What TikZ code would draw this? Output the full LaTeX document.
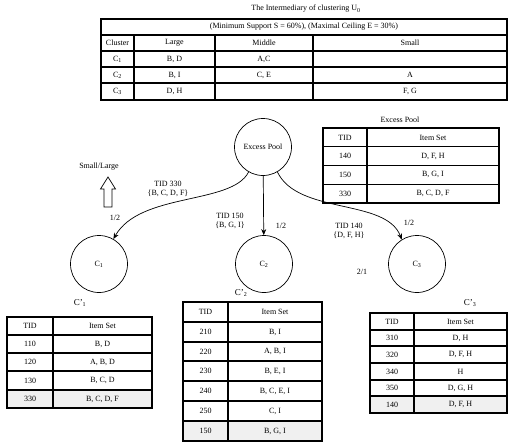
\documentclass[tikz,border=0pt]{standalone}
\usepackage{fontspec}
\setmainfont{Liberation Serif}
\usetikzlibrary{arrows.meta}
\begin{document}
\begin{tikzpicture}[x=1pt,y=-1pt,
  txt/.style={inner sep=0pt,font=\fontsize{8}{9.5}\selectfont},
  grid/.style={line width=1.1pt},
  clus/.style={draw,circle,minimum size=57pt,inner sep=0pt,line width=0.7pt,font=\fontsize{8}{9.5}\selectfont},
  flow/.style={line width=0.7pt,-{Stealth[length=6pt,width=5pt]}},
  newrow/.style={fill=gray!12}
]
\useasboundingbox (0,0) rectangle (509,442);

% ---------- top table ----------
\node[txt] (title) at (306,9) {The Intermediary of clustering U\textsubscript{0}};
\draw[grid] (101,19) rectangle (507,100);
\foreach \y in {35,51,67,83} \draw[grid] (101,\y) -- (507,\y);
\foreach \x in {134,215,313} \draw[grid] (\x,35) -- (\x,100);
\node[txt] (hdr) at (304,27) {(Minimum Support S = 60\%), (Maximal Ceiling E = 30\%)};
\node[txt] at (117.5,43) {Cluster};
\node[txt] at (174.5,43) {Large};
\node[txt] at (264,43) {Middle};
\node[txt] at (410,43) {Small};
\node[txt] at (117.5,59) {C\textsubscript{1}};
\node[txt] at (174.5,59) {B, D};
\node[txt] at (264,59) {A,C};
\node[txt] at (117.5,75) {C\textsubscript{2}};
\node[txt] at (174.5,75) {B, I};
\node[txt] at (264,75) {C, E};
\node[txt] at (410,75) {A};
\node[txt] at (117.5,91.5) {C\textsubscript{3}};
\node[txt] at (174.5,91.5) {D, H};
\node[txt] at (410,91.5) {F, G};

% ---------- excess pool table ----------
\node[txt] (eptitle) at (400,120) {Excess Pool};
\draw[grid] (323,128) rectangle (499,203);
\foreach \y in {146.75,165.5,184.25} \draw[grid] (323,\y) -- (499,\y);
\draw[grid] (367,128) -- (367,203);
\node[txt] at (345,137.4) {TID};      \node[txt] at (433,137.4) {Item Set};
\node[txt] at (345,156.1) {140};      \node[txt] at (433,156.1) {D, F, H};
\node[txt] at (345,174.9) {150};      \node[txt] at (433,174.9) {B, G, I};
\node[txt] at (345,193.6) {330};      \node[txt] at (433,193.6) {B, C, D, F};

% ---------- circles ----------
\node[clus] (ep) at (263,147) {Excess Pool};
\node[clus] (c1) at (99,264) {C\textsubscript{1}};
\node[clus] (c2) at (264,264) {C\textsubscript{2}};
\node[clus] (c3) at (417,264) {C\textsubscript{3}};

% ---------- connectors ----------
\draw[flow] (ep.240) .. controls (232,205) and (140,192) .. (c1.60);
\draw[flow] (ep) -- (c2);
\draw[flow] (ep.300) .. controls (298,215) and (386,198) .. (c3.122);

\node[txt,align=center] (l330) at (168,189) {TID 330\\\{B, C, D, F\}};
\node[txt] (h1) at (115,218) {1/2};
\node[txt,align=center] (l150) at (230,221) {TID 150\\\{B, G, I\}};
\node[txt] (h2) at (281,226) {1/2};
\node[txt,align=center] (l140) at (349,231) {TID 140\\\{D, F, H\}};
\node[txt] (h3) at (409,223) {1/2};
\node[txt] (t21) at (362,272) {2/1};

% ---------- small/large arrow ----------
\node[txt] (sl) at (99,167) {Small/Large};
\draw[line width=0.7pt] (104,207) -- (104,189) -- (100.5,189) -- (108,177) -- (115.5,189) -- (112,189) -- (112,207) -- cycle;

% ---------- C'1 table ----------
\node[txt,font=\fontsize{9}{10}\selectfont] (cp1) at (80,303) {C'\textsubscript{1}};
\fill[newrow] (7.5,390) rectangle (151.5,407.5);
\draw[grid] (7,317) rectangle (152,408);
\foreach \y in {335,353,371,390} \draw[grid] (7,\y) -- (152,\y);
\draw[grid] (53,317) -- (53,408);
\node[txt] at (30,326) {TID};   \node[txt] at (102.5,326) {Item Set};
\node[txt] at (30,344) {110};   \node[txt] at (102.5,344) {B, D};
\node[txt] at (30,362) {120};   \node[txt] at (102.5,362) {A, B, D};
\node[txt] at (30,380.5) {130}; \node[txt] at (102.5,380.5) {B, C, D};
\node[txt] at (30,399) {330};   \node[txt] at (102.5,399) {B, C, D, F};

% ---------- C'2 table ----------
\node[txt,font=\fontsize{9}{10}\selectfont] (cp2) at (241,293) {C'\textsubscript{2}};
\fill[newrow] (183,421) rectangle (322,441);
\draw[grid] (183,302) rectangle (322,441);
\foreach \y in {322,342,361,381,401,421} \draw[grid] (183,\y) -- (322,\y);
\draw[grid] (228,302) -- (228,441);
\node[txt] at (205.5,312) {TID};   \node[txt] at (275,312) {Item Set};
\node[txt] at (205.5,332) {210};   \node[txt] at (275,332) {B, I};
\node[txt] at (205.5,351.5) {220}; \node[txt] at (275,351.5) {A, B, I};
\node[txt] at (205.5,371) {230};   \node[txt] at (275,371) {B, E, I};
\node[txt] at (205.5,391) {240};   \node[txt] at (275,391) {B, C, E, I};
\node[txt] at (205.5,411) {250};   \node[txt] at (275,411) {C, I};
\node[txt] at (205.5,431) {150};   \node[txt] at (275,431) {B, G, I};

% ---------- C'3 table ----------
\node[txt,font=\fontsize{9}{10}\selectfont] (cp3) at (470,303) {C'\textsubscript{3}};
\fill[newrow] (370,396) rectangle (507,413);
\draw[grid] (370,313) rectangle (507,413);
\foreach \y in {330,346,363,380,396} \draw[grid] (370,\y) -- (507,\y);
\draw[grid] (414,313) -- (414,413);
\node[txt] at (392,321.5) {TID};   \node[txt] at (460.5,321.5) {Item Set};
\node[txt] at (392,338) {310};     \node[txt] at (460.5,338) {D, H};
\node[txt] at (392,354.5) {320};   \node[txt] at (460.5,354.5) {D, F, H};
\node[txt] at (392,371.5) {340};   \node[txt] at (460.5,371.5) {H};
\node[txt] at (392,388) {350};     \node[txt] at (460.5,388) {D, G, H};
\node[txt] at (392,404.5) {140};   \node[txt] at (460.5,404.5) {D, F, H};
\end{tikzpicture}
\end{document}
